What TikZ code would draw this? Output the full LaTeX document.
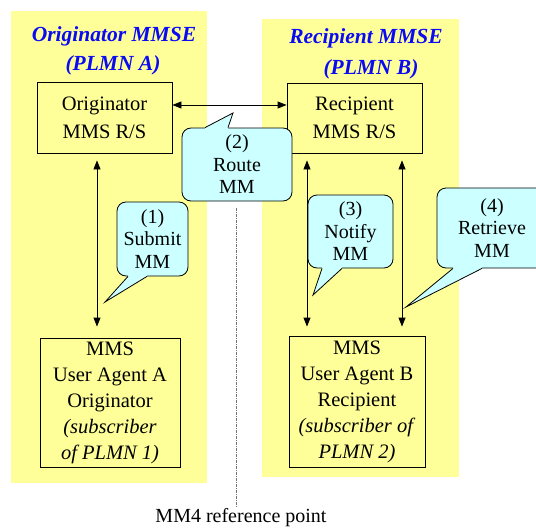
\documentclass[tikz,border=0pt]{standalone}
\usepackage{fontspec}
\setmainfont{Liberation Serif}
\usetikzlibrary{arrows.meta,calc}
\definecolor{plmnyellow}{RGB}{255,255,153}
\definecolor{bubblecyan}{RGB}{204,255,255}
\definecolor{titleblue}{RGB}{10,10,245}
\tikzset{
  plmn/.style   = {fill=plmnyellow, draw=none, inner sep=0pt},
  title/.style  = {text=titleblue, font=\fontsize{21.5}{29}\selectfont\bfseries\itshape, inner sep=0pt},
  unit/.style   = {draw, line width=0.8pt, fill=plmnyellow, align=center, inner sep=0pt, font=\fontsize{20.5}{28}\selectfont},
  bubble/.style = {draw, line width=0.8pt, fill=bubblecyan, rounded corners=9pt, align=center, inner sep=0pt, font=\fontsize{20}{22.5}\selectfont},
  dflow/.style  = {{Triangle[length=9pt,width=7pt]}-{Triangle[length=9pt,width=7pt]}, line width=0.8pt},
  refline/.style = {draw=black!55, line width=1pt, dash pattern=on 3pt off 1pt on 1pt off 1pt},
}
% pointer of a speech bubble: anchor, base offsets, tip, inward shift
\newcommand{\tail}[5]{%
  \fill[bubblecyan] ([xshift=#2pt,yshift=#5pt]#1) -- ([xshift=#2pt]#1) -- (#4) -- ([xshift=#3pt]#1) -- ([xshift=#3pt,yshift=#5pt]#1) -- cycle;
  \draw[line width=0.8pt] ([xshift=#2pt]#1) -- (#4) -- ([xshift=#3pt]#1);}

\begin{document}
\begin{tikzpicture}[x=1pt,y=-1pt]
  \clip (0,0) rectangle (536,530);
  % the two MMSEs
  \node[plmn, minimum width=196pt, minimum height=472pt] (panelA) at (109,247) {};
  \node[plmn, minimum width=197pt, minimum height=458pt] (panelB) at (360.5,248) {};
  \node[title] (titleA) at (114,36) {Originator MMSE};
  \node[title] (plmnA) at (113,65) {(PLMN A)};
  \node[title] (titleB) at (366,38) {Recipient MMSE};
  \node[title] (plmnB) at (371,69) {(PLMN B)};
  % relay/servers and user agents
  \node[unit, minimum width=135pt, minimum height=71pt] (rsA) at (104.5,117.5) {Originator\\MMS R/S};
  \node[unit, minimum width=135pt, minimum height=70pt] (rsB) at (354.5,118) {Recipient\\MMS R/S};
  \node[unit, minimum width=140pt, minimum height=129pt, font=\fontsize{20.5}{26}\selectfont] (uaA) at (110,402.5)
    {MMS\\User Agent A\\Originator\\\textit{(subscriber}\\\textit{of PLMN 1)}};
  \node[unit, minimum width=136pt, minimum height=131pt, font=\fontsize{20.5}{26}\selectfont] (uaB) at (357,401.5)
    {MMS\\User Agent B\\Recipient\\\textit{(subscriber of}\\\textit{PLMN 2)}};
  % flows
  \draw[dflow] ([yshift=12.5pt]rsA.east) -- ([yshift=12.5pt]rsA.east -| rsB.west);
  \draw[dflow, shorten <=7pt, shorten >=11pt] ([xshift=-7.5pt]rsA.south) -- ([xshift=-7.5pt]rsA.south |- uaA.north);
  \draw[dflow, shorten <=7pt, shorten >=9pt] ([xshift=-47.5pt]rsB.south) -- ([xshift=-47.5pt]rsB.south |- uaB.north);
  \draw[dflow, shorten <=7pt, shorten >=9pt] ([xshift=47.5pt]rsB.south) -- ([xshift=47.5pt]rsB.south |- uaB.north);
  % MM4 reference point
  \coordinate (mmtop) at (236,208);
  \node[font=\fontsize{20}{22}\selectfont, inner sep=0pt, anchor=base] (mm4) at (241,522) {MM4 reference point};
  \draw[refline] (mmtop) -- (mmtop |- mm4.north);
  % speech bubbles
  \coordinate (tip1) at (105,302);
  \coordinate (tip2) at (233,113);
  \coordinate (tip3) at (313,295);
  \coordinate (tip4) at (406,307);
  \node[bubble, minimum width=71pt, minimum height=74pt] (c1) at (152.5,239) {(1)\\Submit\\MM};
  \tail{c1.south}{-24.5}{-5.5}{tip1}{1.5}
  \node[bubble, minimum width=110pt, minimum height=73pt] (c2) at (237,164.5) {(2)\\Route\\MM};
  \tail{c2.north}{-32}{-9}{tip2}{-1.5}
  \node[bubble, minimum width=85pt, minimum height=73pt] (c3) at (350.5,231.5) {(3)\\Notify\\MM};
  \tail{c3.south}{-28.5}{-8.5}{tip3}{1.5}
  \node[bubble, minimum width=110pt, minimum height=80pt] (c4) at (492,228) {(4)\\Retrieve\\MM};
  \tail{c4.south}{-39}{-10}{tip4}{1.5}
\end{tikzpicture}
\end{document}
